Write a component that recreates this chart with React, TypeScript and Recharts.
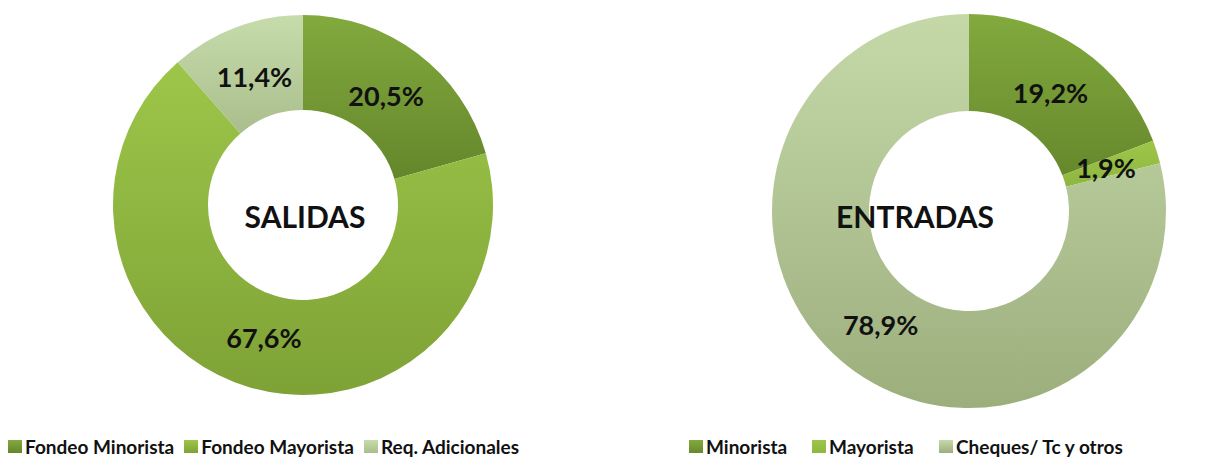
import { Cell, Label, Legend, Pie, PieChart } from 'recharts';

const salidasNames = ['Fondeo Minorista', 'Fondeo Mayorista', 'Req. Adicionales'];
const salidasValues = [20.5, 67.6, 11.4];
const entradasNames = ['Minorista', 'Mayorista', 'Cheques/ Tc y otros'];
const entradasValues = [19.2, 1.9, 78.9];

const font = 'Lato, "Open Sans", sans-serif';

// top / bottom stops of each slice gradient
const salidasGrads = [
  ['#82aa3e', '#64862b'],
  ['#9dc649', '#7ea236'],
  ['#c7dcab', '#a9be8c'],
];
const entradasGrads = [
  ['#82aa3e', '#66882c'],
  ['#9dc649', '#8fb63f'],
  ['#c5d9a8', '#9dae7d'],
];

const fmt = (v: number) => `${v.toFixed(1).replace('.', ',')}%`;

const RAD = Math.PI / 180;
function pctLabel(props: any) {
  const { cx, cy, midAngle, innerRadius, outerRadius, value } = props;
  const r = innerRadius + (outerRadius - innerRadius) * 0.45;
  const x = cx + r * Math.cos(-midAngle * RAD);
  const y = cy + r * Math.sin(-midAngle * RAD);
  return (
    <text x={x} y={y} textAnchor="middle" dominantBaseline="central"
      fontFamily={font} fontWeight={700} fontSize={27} fill="#111">
      {fmt(value)}
    </text>
  );
}

function LegendRow({ names, grads, offsets }: { names: string[]; grads: string[][]; offsets?: number[] }) {
  return (
    <div style={{ display: 'flex', alignItems: 'center', fontFamily: font, fontWeight: 700, fontSize: 19, color: '#111', whiteSpace: 'nowrap' }}>
      {names.map((n, i) => (
        <div key={n} style={{ display: 'flex', alignItems: 'center', width: offsets ? offsets[i] : undefined, marginRight: offsets ? 0 : 10 }}>
          <span style={{ display: 'inline-block', width: 14, height: 13, marginRight: 3, background: `linear-gradient(${grads[i][0]}, ${grads[i][1]})` }} />
          <span>{n}</span>
        </div>
      ))}
    </div>
  );
}

function Donut({ id, title, names, values, grads, cx, cy, inner, outer, legendLeft, offsets }: any) {
  const data = names.map((n: string, i: number) => ({ name: n, value: values[i] }));
  return (
    <PieChart width={610} height={458} margin={{ top: 0, right: 0, bottom: 0, left: 0 }}>
      <defs>
        {grads.map((g: string[], i: number) => (
          <linearGradient key={i} id={`${id}${i}`} x1="0" y1="0" x2="0" y2="1">
            <stop offset="0%" stopColor={g[0]} />
            <stop offset="100%" stopColor={g[1]} />
          </linearGradient>
        ))}
      </defs>
      <Pie data={data} dataKey="value" nameKey="name" cx={cx} cy={cy}
        innerRadius={inner} outerRadius={outer} startAngle={90} endAngle={-270}
        stroke="none" label={pctLabel} labelLine={false} isAnimationActive={false}>
        {data.map((_: any, i: number) => (
          <Cell key={i} fill={`url(#${id}${i})`} />
        ))}
        <Label value={title} position="center" fontFamily={font} fontWeight={700} fontSize={30} fill="#111" />
      </Pie>
      <Legend
        wrapperStyle={{ left: legendLeft, top: 435, width: 'auto' }}
        content={() => <LegendRow names={names} grads={grads} offsets={offsets} />}
      />
    </PieChart>
  );
}

export default function App() {
  return (
    <div style={{ position: 'absolute', left: 0, top: 0, width: 1220, height: 458, background: '#fff', display: 'flex' }}>
      <Donut id="sal" title="SALIDAS" names={salidasNames} values={salidasValues} grads={salidasGrads}
        cx={303} cy={205} inner={95} outer={190} legendLeft={8} />
      <Donut id="ent" title="ENTRADAS" names={entradasNames} values={entradasValues} grads={entradasGrads}
        cx={359} cy={211} inner={100} outer={197} legendLeft={79} offsets={[123, 127, 200]} />
    </div>
  );
}
